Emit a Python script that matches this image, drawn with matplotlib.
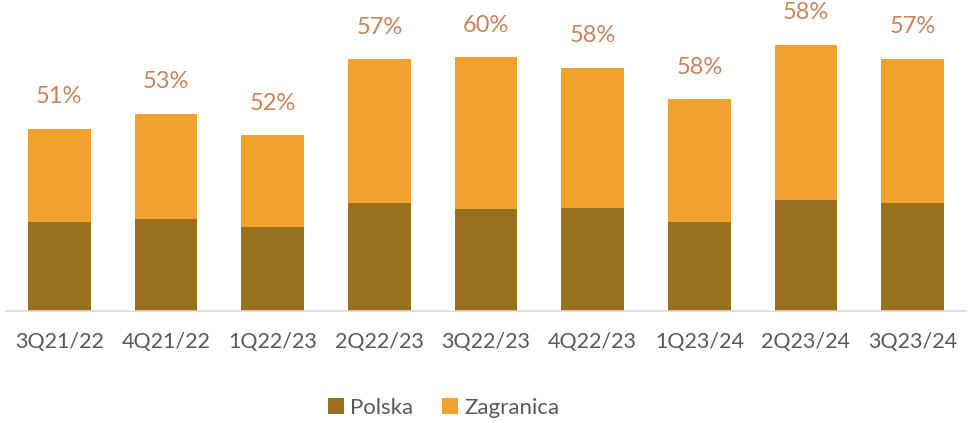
import matplotlib
matplotlib.use("Agg")
import matplotlib.pyplot as plt
import numpy as np

plt.rcParams['font.family'] = ['Lato', 'DejaVu Sans']

# dane (jednostki umowne)
kwartaly = ['3Q21/22', '4Q21/22', '1Q22/23', '2Q22/23', '3Q22/23',
            '4Q22/23', '1Q23/24', '2Q23/24', '3Q23/24']
polska = [88.4, 91.7, 84.0, 108.0, 101.4, 102.4, 88.4, 110.4, 108.0]
zagranica = [93.6, 105.3, 91.7, 143.7, 152.0, 140.3, 123.0, 155.3, 144.0]
udzial = ['51%', '53%', '52%', '57%', '60%', '58%', '58%', '58%', '57%']

kolor_pl = '#98701F'
kolor_zagr = '#F0A12E'
kolor_etykiet = '#C8845A'
kolor_osi = '#595959'

fig = plt.figure(figsize=(9.69, 4.23), dpi=100)
ax = fig.add_axes([6 / 969, 1 - 310.7 / 423, 960 / 969, 310.7 / 423])

x = np.arange(len(kwartaly))
ax.bar(x, polska, width=0.59, color=kolor_pl, label='Polska')
ax.bar(x, zagranica, width=0.59, bottom=polska, color=kolor_zagr, label='Zagranica')

suma = np.array(polska) + np.array(zagranica)
for xi, s, txt in zip(x, suma, udzial):
    ax.text(xi, s + 32, txt, ha='center', va='center', fontsize=17, color=kolor_etykiet)

ax.set_xlim(-0.5, len(kwartaly) - 0.5)
ax.set_ylim(0, 310.7)
ax.set_xticks(x)
ax.set_xticklabels(kwartaly, fontsize=15.5, color=kolor_osi)
ax.tick_params(axis='x', length=0, pad=15)
ax.set_yticks([])
for side in ['top', 'right', 'left']:
    ax.spines[side].set_visible(False)
ax.spines['bottom'].set_color('#D9D9D9')
ax.spines['bottom'].set_linewidth(1.2)

leg = fig.legend(loc='center', bbox_to_anchor=(444 / 969, 1 - 408 / 423), ncol=2,
                 frameon=False, fontsize=16, handlelength=0.7, handleheight=0.7,
                 handletextpad=0.3, columnspacing=1.3)
for t in leg.get_texts():
    t.set_color(kolor_osi)

fig.savefig('out.png', dpi=100)
